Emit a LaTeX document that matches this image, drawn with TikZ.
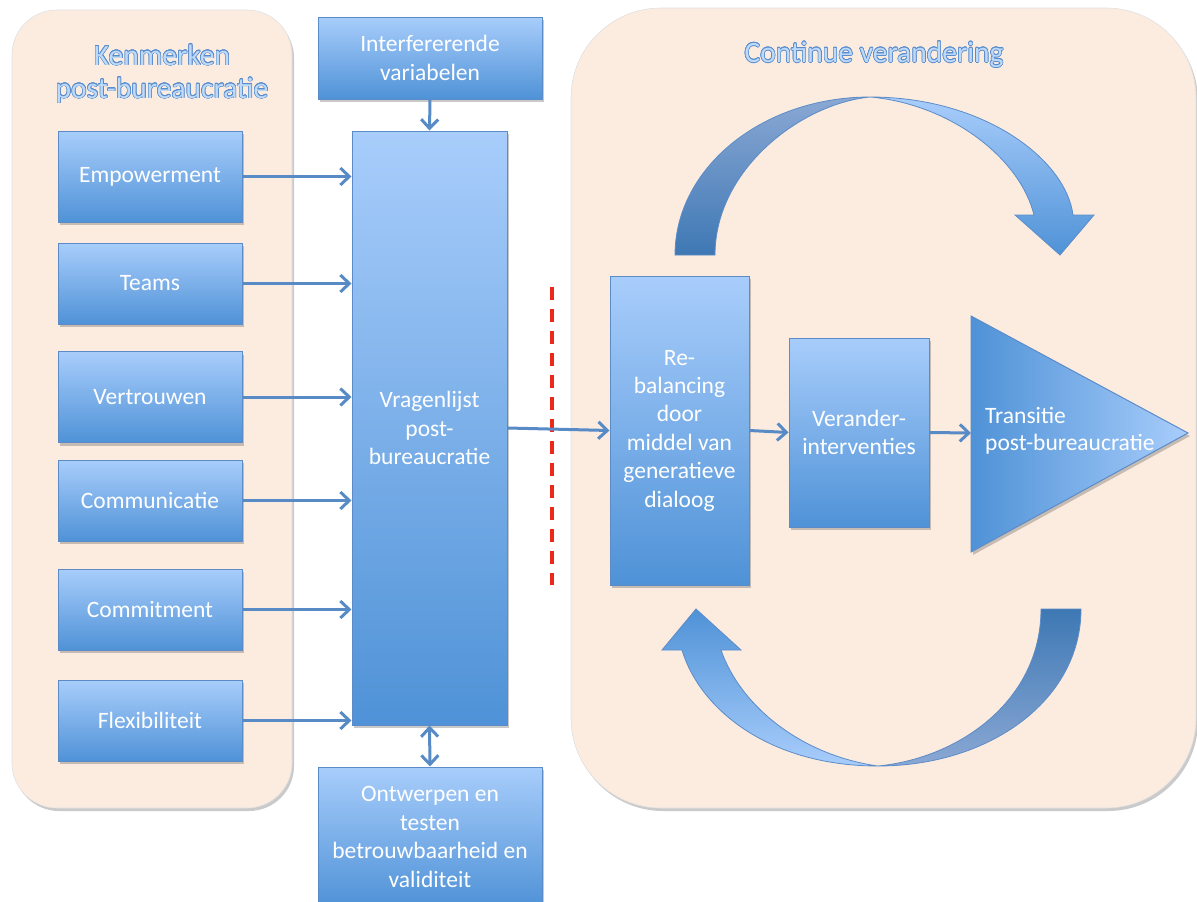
\documentclass[tikz,border=0pt]{standalone}
\usepackage{fontspec}
\setmainfont{Carlito}
\usepackage{contour}
\contourlength{0.6pt}
\usetikzlibrary{arrows.meta,shadows}

\definecolor{peach}{RGB}{252,236,224}
\definecolor{boxtop}{RGB}{168,205,251}
\definecolor{boxbot}{RGB}{79,146,215}
\definecolor{boxline}{RGB}{92,140,200}
\definecolor{conncol}{RGB}{88,138,198}
\definecolor{titlefill}{RGB}{190,218,248}
\definecolor{titleline}{RGB}{88,140,205}
\definecolor{darkband}{RGB}{62,120,180}
\definecolor{greyband}{RGB}{138,168,212}
\definecolor{redline}{RGB}{236,40,24}

\tikzset{
  panel/.style={fill=peach, draw=black!12, line width=0.6pt,
    drop shadow={shadow xshift=2pt, shadow yshift=-3pt, opacity=0.35, fill=black!60}},
  bluebox/.style={rectangle, draw=boxline, line width=1pt, top color=boxtop, bottom color=boxbot,
    text=white, align=center, inner sep=2pt, font=\fontsize{23.5}{28.4}\selectfont,
    drop shadow={shadow xshift=2pt, shadow yshift=-3pt, opacity=0.3, fill=black!70}},
  conn/.style={draw=conncol, line width=3pt, -{Straight Barb[length=9pt,width=17pt,line width=3pt]}},
  biconn/.style={draw=conncol, line width=3pt, {Straight Barb[length=9pt,width=17pt,line width=3pt]}-{Straight Barb[length=9pt,width=17pt,line width=3pt]}},
  ttl/.style={align=center, font=\fontsize{29.5}{35}\selectfont},
  band/.style={draw=boxline, line width=0.8pt}
}
\newcommand{\outlined}[1]{\contour{titleline}{\textcolor{titlefill}{#1}}}

\begin{document}
\begin{tikzpicture}[x=1pt, y=-1pt]
\useasboundingbox (0,0) rectangle (1197,902);
\clip (0,0) rectangle (1197,902);

% background panels
\path[panel] (12,10) [rounded corners=45pt] rectangle (292,808);
\path[panel] (571,8) [rounded corners=90pt] rectangle (1196,808);

% panel titles
\node[ttl] (ttlL) at (162,74) {\outlined{Kenmerken}\\[-2pt]\outlined{post-bureaucratie}};
\node[ttl] (ttlR) at (874,55) {\outlined{Continue verandering}};

% central column
\node[bluebox, minimum width=224pt, minimum height=82pt] (interf) at (430,58) {Interfererende\\variabelen};
\node[bluebox, minimum width=155pt, minimum height=594pt] (vrag) at (429.5,428) {Vragenlijst\\post-\\bureaucratie};
\node[bluebox, minimum width=224pt, minimum height=140pt] (ontw) at (430,837) {Ontwerpen en\\testen\\betrouwbaarheid en\\validiteit};

% characteristics
\node[bluebox, minimum width=184pt, minimum height=91pt] (emp) at (150,176.5) {Empowerment};
\node[bluebox, minimum width=184pt, minimum height=81pt] (teams) at (150,283.5) {Teams};
\node[bluebox, minimum width=184pt, minimum height=91pt] (vert) at (150,397) {Vertrouwen};
\node[bluebox, minimum width=184pt, minimum height=81pt] (comm) at (150,500.5) {Communicatie};
\node[bluebox, minimum width=184pt, minimum height=81pt] (commit) at (150,609.5) {Commitment};
\node[bluebox, minimum width=184pt, minimum height=81pt] (flex) at (150,720.5) {Flexibiliteit};

% change cycle
\node[bluebox, minimum width=139pt, minimum height=309pt] (rebal) at (679.5,430.5) {Re-\\balancing\\door\\middel van\\generatieve\\dialoog};
\node[bluebox, minimum width=140pt, minimum height=189pt] (verander) at (859,432.5) {Verander-\\interventies};

% transition triangle
\path[draw=boxline, line width=1pt, left color=boxbot, right color=boxtop,
  drop shadow={shadow xshift=2pt, shadow yshift=-3pt, opacity=0.3, fill=black!70}]
  (971,316) -- (1188,433) -- (971,552) -- cycle;
\coordinate (triW) at (971,433);
\node[anchor=west, align=left, text=white, font=\fontsize{23.5}{27.5}\selectfont, inner sep=0pt] (trans) at (985,431) {Transitie\\post-bureaucratie};

% divider
\draw[redline, line width=3.5pt, dash pattern=on 13pt off 9pt] (552,287) -- (552,585);

% upper curved arrow: rising tail part
\path[band, top color=greyband, bottom color=darkband]
  (675,255) .. controls (675,168) and (762,97) .. (870,97)
  .. controls (800,104) and (715,170) .. (715,255) -- cycle;
% upper curved arrow: descending part with head
\path[band, top color=boxtop, bottom color=boxbot]
  (870,97) .. controls (985,97) and (1066,160) .. (1073,215)
  -- (1094,215) -- (1060,255) -- (1015,215) -- (1034,215)
  .. controls (1020,158) and (950,104) .. cycle;

% lower curved arrow: falling tail part
\path[band, top color=darkband, bottom color=greyband]
  (1081,609) .. controls (1081,700) and (990,766) .. (878,766)
  .. controls (960,758) and (1041,700) .. (1041,609) -- cycle;
% lower curved arrow: rising part with head
\path[band, top color=boxbot, bottom color=boxtop]
  (878,766) .. controls (770,766) and (700,710) .. (682,650)
  -- (662,650) -- (696,609) -- (741,650) -- (721,650)
  .. controls (740,705) and (800,755) .. cycle;

% connectors
\draw[conn] (interf.south) -- (vrag.north);
\draw[biconn] (vrag.south) -- (ontw.north);
\foreach \n in {emp,teams,vert,comm,commit,flex}
  \draw[conn] (\n.east) -- (\n.east -| vrag.west);
\draw[conn] (vrag.east) -- (rebal.west);
\draw[conn] (rebal.east) -- (verander.west);
\draw[conn] (verander.east) -- (triW);
\end{tikzpicture}
\end{document}
